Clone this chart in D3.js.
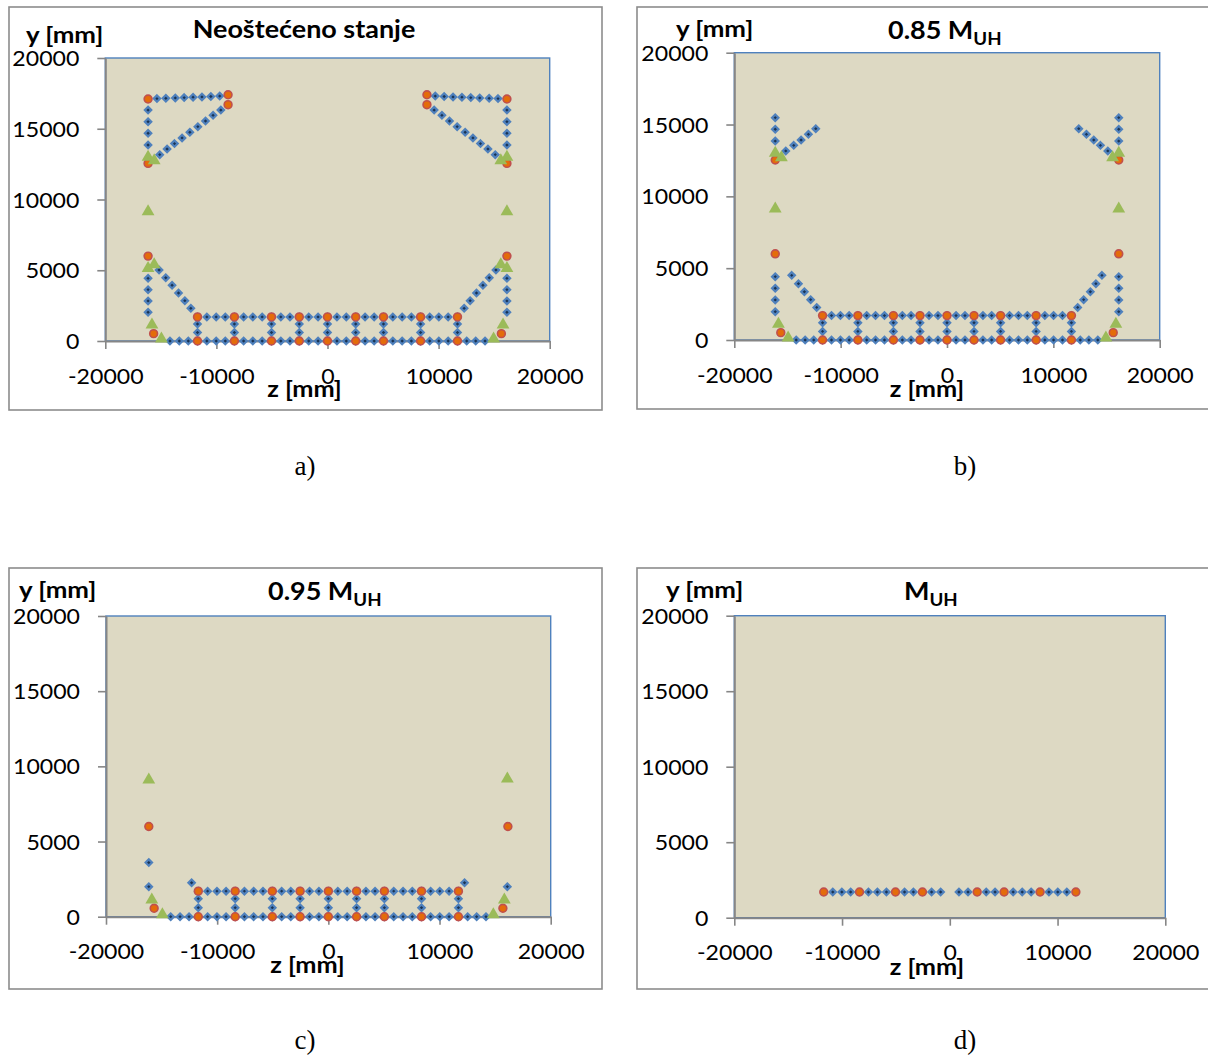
<!DOCTYPE html>
<html><head><meta charset="utf-8">
<script src="https://cdn.jsdelivr.net/npm/d3@7"></script>
<style>body{margin:0;background:#fff} svg{display:block}</style>
</head><body>
<svg id="chart" width="1208" height="1057"></svg>
<script>
// ---------------- DATA ----------------
const zTicks = [-20000, -10000, 0, 10000, 20000];
const yTicks = [0, 5000, 10000, 15000, 20000];
const zDomain = [-20000, 20000];
const yDomain = [0, 20000];

// bottom slab (box girder) fibres, shared by a, b, c
const slabBottomZ = [-14180,-13340,-12530,-11700,-10860,-10020,-9200,-8380,-7550,-6720,-5880,-5040,-4200,-3380,-2540,-1690,-850,0,850,1690,2540,3380,4200,5040,5880,6720,7550,8380,9200,10020,10860,11700,12530,13340,14180];
const slabTopZ = [-11700,-10860,-10020,-9200,-8380,-7550,-6720,-5880,-5040,-4200,-3380,-2540,-1690,-850,0,850,1690,2540,3380,4200,5040,5880,6720,7550,8380,9200,10020,10860,11700];
const slabLevelsY = [0, 1700];
const webZ = [-11700,-8380,-5040,-2540,0,2540,5040,8380,11700];
const webLevelsY = [600, 1200];

// a) Neoštećeno stanje
const fibersA = [
  [-15350,17130],[-14550,17150],[-13700,17180],[-12900,17200],[-12100,17230],[-11300,17250],[-10500,17280],[-9700,17310],
  [9700,17310],[10500,17280],[11300,17250],[12100,17230],[12900,17200],[13700,17180],[14550,17150],[15350,17130],
  [-9600,16320],[-10300,15950],[-10980,15550],[-11670,15150],[-12390,14750],[-13090,14350],[-13770,13950],[-14440,13570],[-15100,13170],
  [9600,16320],[10300,15950],[10980,15550],[11670,15150],[12390,14750],[13090,14350],[13770,13950],[14440,13570],[15100,13170],
  [-16150,16320],[-16150,15500],[-16150,14680],[-16150,13850],
  [16150,16320],[16150,15500],[16150,14680],[16150,13850],
  [-15160,5020],[-14560,4470],[-13990,3940],[-13410,3390],[-12840,2850],[-12300,2310],
  [15160,5020],[14560,4470],[13990,3940],[13410,3390],[12840,2850],[12300,2310],
  [-16150,4430],[-16150,3630],[-16150,2830],[-16150,2030],
  [16150,4430],[16150,3630],[16150,2830],[16150,2030]
];
const rebarA = [
  [-16150,17100],[-8950,17400],[-8950,16700],[-16150,12550],[-16150,6000],[-15650,520],
  [16150,17100],[8950,17400],[8950,16700],[16150,12550],[16150,6000],[15650,520]
];
const tendonsA = [
  [-16150,13100],[-15600,12850],[-16150,9250],[-16150,5250],[-15600,5500],[-15800,1250],[-14950,260],
  [16150,13100],[15600,12850],[16150,9250],[16150,5250],[15600,5500],[15800,1250],[14950,260]
];

// b) 0.85 M_UH
const fibersB = [
  [-16150,15480],[-16150,14670],[-16150,13850],[16150,15480],[16150,14670],[16150,13850],
  [-15160,13160],[-14410,13550],[-13720,13920],[-13030,14320],[-12340,14710],
  [15120,13160],[14430,13550],[13800,13920],[13110,14320],[12390,14710],
  [-16150,4410],[-16150,3600],[-16150,2790],[-16150,1970],
  [16150,4410],[16150,3600],[16150,2790],[16150,1970],
  [-14600,4500],[-13970,3920],[-13410,3360],[-12820,2810],[-12250,2270],
  [14570,4500],[14000,3920],[13480,3360],[12850,2810],[12290,2270]
];
const rebarB = [
  [-16150,12530],[-16150,6000],[-15630,510],
  [16150,12530],[16150,6000],[15630,510]
];
const tendonsB = [
  [-16150,13110],[-15570,12810],[-16150,9240],[-15850,1210],[-14940,250],
  [16150,13110],[15570,12810],[16150,9240],[15880,1210],[14940,250]
];

// c) 0.95 M_UH
const fibersC = [[-16150,3600],[-16150,2000],[-12300,2260],[12250,2260],[16100,2000]];
const rebarC = [[-16150,6000],[-15670,560],[16150,6000],[15700,560]];
const tendonsC = [[-16150,9200],[-15880,1220],[-14930,250],[16100,9270],[15830,1220],[14840,250]];

// d) M_UH
const fibersDZ = [-10860,-10020,-9200,-7550,-6720,-5880,-4200,-3380,-1690,-850,850,1690,3380,4200,5880,6720,7550,9200,10020,10860];
const rebarDZ = [-11700,-8380,-5040,-2540,2540,5040,8380,11700];
const rowDY = 1700;

const titles = {a: ["Neoštećeno stanje", ""], b: ["0.85 M", "UH"], c: ["0.95 M", "UH"], d: ["M", "UH"]};
const captions = {a: "a)", b: "b)", c: "c)", d: "d)"};
const yLabel = "y [mm]";
const zLabel = "z [mm]";

// ---------------- BUILD SERIES ----------------
const slabFibers = [
  ...slabBottomZ.map(z => [z, slabLevelsY[0]]),
  ...slabTopZ.map(z => [z, slabLevelsY[1]]),
  ...webZ.flatMap(z => webLevelsY.map(y => [z, y]))
];
const slabRebar = webZ.flatMap(z => slabLevelsY.map(y => [z, y]));

const series = {
  a: {f: [...fibersA, ...slabFibers], r: [...rebarA, ...slabRebar], t: tendonsA},
  b: {f: [...fibersB, ...slabFibers], r: [...rebarB, ...slabRebar], t: tendonsB},
  c: {f: [...fibersC, ...slabFibers], r: [...rebarC, ...slabRebar], t: tendonsC},
  d: {f: fibersDZ.map(z => [z, rowDY]), r: rebarDZ.map(z => [z, rowDY]), t: []}
};

// ---------------- LAYOUT ----------------
const layout = {
  a: {box:[9,7,602,410], plot:[105.3,58,549.7,341], title:{x:304,y:38,anchor:'middle'}, ylab:{x:26,y:43}, zlab:{x:304.5,y:397}, cap:{x:305,y:475}},
  b: {box:[637,7,1215,409], plot:[734.3,52.7,1159.7,340], title:{x:888,y:39,anchor:'start'}, ylab:{x:676,y:37}, zlab:{x:927,y:397}, cap:{x:965,y:475}},
  c: {box:[9,568,602,989], plot:[106,616,550.7,916.7], title:{x:268,y:600,anchor:'start'}, ylab:{x:19,y:598}, zlab:{x:307.5,y:973}, cap:{x:305,y:1049}},
  d: {box:[637,568,1215,989], plot:[734.3,615.7,1165.3,917.7], title:{x:904,y:600,anchor:'start'}, ylab:{x:666,y:598}, zlab:{x:927,y:975}, cap:{x:965,y:1049}}
};

const FONT = "Lato, 'Open Sans', sans-serif";
const SX = 1.1;
const svg = d3.select('#chart');

function stretchedText(parent, x, y, anchor, size, weight) {
  return parent.append('g').attr('transform', `translate(${x},${y}) scale(${SX},1)`)
    .append('text').attr('text-anchor', anchor)
    .attr('font-family', FONT).attr('font-size', size).attr('font-weight', weight).attr('fill', '#000');
}

const diamond = d3.symbol().type(d3.symbolDiamond2).size(26);

for (const key of ['a','b','c','d']) {
  const L = layout[key];
  const g = svg.append('g');
  const [bx0, by0, bx1, by1] = L.box;
  g.append('rect').attr('x', bx0).attr('y', by0).attr('width', bx1 - bx0).attr('height', by1 - by0)
    .attr('fill', '#fff').attr('stroke', '#8c8c8c').attr('stroke-width', 1.6);

  const [pl, pt, pr, pb] = L.plot;
  const x = d3.scaleLinear().domain(zDomain).range([pl, pr]);
  const y = d3.scaleLinear().domain(yDomain).range([pb, pt]);

  g.append('rect').attr('x', pl).attr('y', pt).attr('width', pr - pl).attr('height', pb - pt)
    .attr('fill', '#ddd9c3').attr('stroke', '#4f81bd').attr('stroke-width', 1.4);

  const ax = g.append('g').attr('transform', `translate(${pl},0)`)
    .call(d3.axisLeft(y).tickValues(yTicks).tickSize(8).tickSizeOuter(0).tickFormat(d => String(d)));
  ax.selectAll('text').attr('x', 0).attr('dy', '0.36em')
    .attr('transform', `translate(-26,0) scale(${SX},1)`);
  const bx = g.append('g').attr('transform', `translate(0,${pb})`)
    .call(d3.axisBottom(x).tickValues(zTicks).tickSize(8).tickSizeOuter(0).tickFormat(d => String(d)));
  bx.selectAll('text').attr('y', 0).attr('dy', 0)
    .attr('transform', `translate(0,42.5) scale(${SX},1)`);
  for (const a of [ax, bx]) {
    a.selectAll('text').attr('font-family', FONT).attr('font-size', 21).attr('fill', '#000');
    a.select('.domain').attr('stroke', '#868686').attr('stroke-width', 2);
    a.selectAll('.tick line').attr('stroke', '#868686').attr('stroke-width', 1.6);
  }

  // markers
  const S = series[key];
  g.append('g').selectAll('path').data(S.f).join('path')
    .attr('transform', d => `translate(${x(d[0])},${y(d[1])})`)
    .attr('d', diamond).attr('fill', '#1a3352').attr('stroke', '#4f81bd').attr('stroke-width', 2.2);
  g.append('g').selectAll('circle').data(S.r).join('circle')
    .attr('cx', d => x(d[0])).attr('cy', d => y(d[1])).attr('r', 3.9)
    .attr('fill', '#e46c0a').attr('stroke', '#c0504d').attr('stroke-width', 1.6);
  g.append('g').selectAll('path').data(S.t).join('path')
    .attr('transform', d => `translate(${x(d[0])},${y(d[1])})`)
    .attr('d', 'M0,-5.8L6.4,5.2L-6.4,5.2Z').attr('fill', '#9bbb59');

  // titles
  const t = stretchedText(g, L.title.x, L.title.y, L.title.anchor, 24.5, 'bold');
  t.append('tspan').text(titles[key][0]);
  if (titles[key][1]) t.append('tspan').attr('font-size', 17).attr('dy', 6).text(titles[key][1]);

  stretchedText(g, L.ylab.x, L.ylab.y, 'start', 23.5, 'bold').text(yLabel);
  stretchedText(g, L.zlab.x, L.zlab.y, 'middle', 23, 'bold').text(zLabel);

  svg.append('text').attr('x', L.cap.x).attr('y', L.cap.y).attr('text-anchor', 'middle')
    .attr('font-family', "'Liberation Serif', 'Times New Roman', serif").attr('font-size', 27)
    .attr('fill', '#000').text(captions[key]);
}
</script>
</body></html>
